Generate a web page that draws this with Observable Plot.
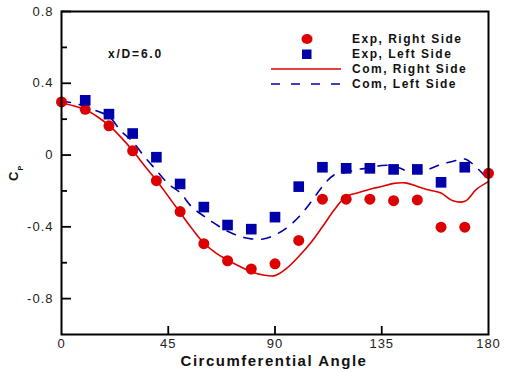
<!DOCTYPE html>
<html><head><meta charset="utf-8">
<script src="https://cdn.jsdelivr.net/npm/d3@7"></script>
<script src="https://cdn.jsdelivr.net/npm/@observablehq/plot@0.6"></script>
<style>
body{margin:0;background:#fff}
svg text{font-family:"Liberation Sans",Arial,sans-serif;letter-spacing:1px}
</style></head><body><div id="chart"></div>
<script>
// Experimental data
const expAnglesRight = [0,10,20,30,40,50,60,70,80,90,100,110,120,130,140,150,160,170,180];
const expRight = [0.296,0.255,0.163,0.024,-0.143,-0.315,-0.494,-0.589,-0.635,-0.606,-0.476,-0.246,-0.246,-0.246,-0.254,-0.25,-0.402,-0.402,-0.102];
const expAnglesLeft = [10,20,30,40,50,60,70,80,90,100,110,120,130,140,150,160,170];
const expLeft = [0.305,0.228,0.12,-0.012,-0.161,-0.29,-0.39,-0.413,-0.346,-0.176,-0.068,-0.074,-0.074,-0.08,-0.08,-0.152,-0.068];
// Computed curves
const comAngles = [0,5,10,15,20,25,30,35,40,45,50,55,60,65,70,75,80,85,90,95,100,105,110,115,120,125,130,135,140,145,150,155,160,165,170,175,180];
const comRight = [0.29,0.275,0.254,0.215,0.165,0.10,0.025,-0.06,-0.14,-0.23,-0.32,-0.41,-0.49,-0.545,-0.585,-0.62,-0.65,-0.668,-0.672,-0.63,-0.565,-0.49,-0.40,-0.305,-0.23,-0.21,-0.19,-0.175,-0.158,-0.155,-0.175,-0.195,-0.212,-0.255,-0.258,-0.19,-0.148];
const comLeft = [0.30,0.29,0.27,0.245,0.215,0.135,0.075,-0.01,-0.085,-0.16,-0.21,-0.29,-0.34,-0.385,-0.425,-0.452,-0.467,-0.468,-0.445,-0.405,-0.345,-0.265,-0.175,-0.11,-0.097,-0.08,-0.072,-0.058,-0.06,-0.085,-0.1,-0.078,-0.052,-0.035,-0.022,-0.07,-0.14];
// Axes / labels
const xTicks = [0,45,90,135,180];
const xInnerTicks = [45,90,135];
const yTicks = [-0.8,-0.4,0,0.4,0.8];
const yMinorTicks = [-0.6,-0.2,0.2,0.6];
const seriesNames = ["Exp, Right Side","Exp, Left Side","Com, Right Side","Com, Left Side"];
const annotation = "x/D=6.0";
const xLabel = "Circumferential Angle";
const yLabelMain = "C", yLabelSub = "P";

const RED = "#dd0000", BLUE = "#0000aa";

const rightPts = expAnglesRight.map((a,i)=>({a, v: expRight[i]}));
const leftPts = expAnglesLeft.map((a,i)=>({a, v: expLeft[i]}));
const com = comAngles.map((a,i)=>({a, r: comRight[i], l: comLeft[i]}));

const chart = Plot.plot({
  width: 510, height: 372,
  marginLeft: 61, marginRight: 22, marginTop: 11, marginBottom: 38,
  x: {domain: [0,180], label: null},
  y: {domain: [-1,0.8], label: null},
  style: {fontFamily: "Liberation Sans, Arial, sans-serif", fontSize: "13px", color: "#222", background: "#fff"},
  marks: [
    Plot.line(com, {x: "a", y: "r", stroke: RED, strokeWidth: 1.6, curve: "catmull-rom"}),
    Plot.line(com, {x: "a", y: "l", stroke: BLUE, strokeWidth: 1.6, strokeDasharray: "9,9", curve: "catmull-rom"}),
    Plot.dot(rightPts, {x: "a", y: "v", r: 5.5, fill: RED, symbol: "circle"}),
    Plot.dot(leftPts, {x: "a", y: "v", r: 6, fill: BLUE, symbol: "square"}),
    Plot.frame({stroke: "#000", strokeWidth: 2}),
    Plot.axisY(yTicks, {tickSize: -10, fill: "none", stroke: "#000", strokeWidth: 1.8, label: null}),
    Plot.axisY(yMinorTicks, {tickSize: -6, fill: "none", stroke: "#000", strokeWidth: 1.8, label: null}),
    Plot.axisY(yTicks, {tickSize: 0, tickPadding: 8, tickFormat: d => String(d), fill: "#222", label: null}),
    Plot.axisX(xInnerTicks, {tickSize: -8, fill: "none", stroke: "#000", strokeWidth: 1.8, label: null}),
    Plot.axisX(xTicks, {tickSize: 0, tickPadding: 4, tickFormat: d => String(d), fill: "#222", label: null})
  ]
});
document.getElementById("chart").appendChild(chart);

const svg = d3.select(chart);
// x label
svg.append("text").attr("x", 274).attr("y", 366).attr("text-anchor", "middle")
  .attr("font-size", 15).attr("font-weight", "bold").attr("fill", "#111")
  .style("letter-spacing", "1.5px").text(xLabel);
// y label with subscript
const yl = svg.append("text")
  .attr("transform", "translate(18,181) rotate(-90)")
  .attr("text-anchor", "start")
  .attr("font-size", 13).attr("font-weight", "bold").attr("fill", "#111");
yl.append("tspan").text(yLabelMain);
yl.append("tspan").text(yLabelSub).attr("font-size", 7).attr("dy", 5);

// annotation
svg.append("text").attr("x", 108).attr("y", 58).attr("text-anchor", "start")
  .attr("font-size", 12).attr("font-weight", "bold")
  .attr("fill", "#111").style("letter-spacing", "1.8px").text(annotation);

// legend
const lg = svg.append("g").attr("text-anchor", "start");
const rows = [39, 54, 69, 84];
lg.append("ellipse").attr("cx", 307).attr("cy", rows[0]).attr("rx", 5.5).attr("ry", 5).attr("fill", RED);
lg.append("rect").attr("x", 302).attr("y", rows[1]-4.5).attr("width", 9.5).attr("height", 9.5).attr("fill", BLUE);
lg.append("line").attr("x1", 271).attr("x2", 341).attr("y1", rows[2]).attr("y2", rows[2]).attr("stroke", RED).attr("stroke-width", 1.6);
lg.append("line").attr("x1", 271).attr("x2", 341).attr("y1", rows[3]).attr("y2", rows[3]).attr("stroke", BLUE).attr("stroke-width", 1.6).attr("stroke-dasharray", "9,11");
seriesNames.forEach((s,i) => {
  lg.append("text").attr("x", 352).attr("y", rows[i]).attr("dy", "0.36em")
    .attr("text-anchor", "start")
    .attr("font-size", 12).attr("font-weight", "bold").attr("fill", "#111")
    .style("letter-spacing", "1.5px").text(s);
});
</script></body></html>
